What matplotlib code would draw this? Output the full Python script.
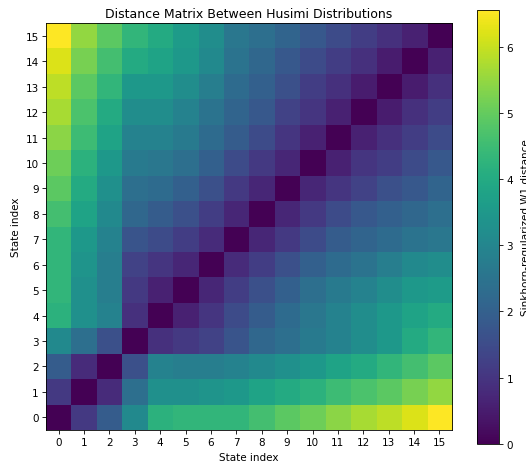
import matplotlib
matplotlib.use("Agg")
import matplotlib.pyplot as plt
import numpy as np

# lower triangle of the distance matrix, row i holds columns 0..i-1
lower = [
    [],
    [1.1],
    [1.9, 0.8],
    [3.1, 2.4, 1.6],
    [4.2, 3.3, 2.9, 0.9],
    [4.3, 3.3, 2.8, 1.1, 0.6],
    [4.3, 3.4, 2.8, 1.3, 1.0, 0.7],
    [4.3, 3.5, 2.9, 1.7, 1.5, 1.2, 0.8],
    [4.6, 3.8, 3.1, 2.2, 1.9, 1.6, 1.2, 0.7],
    [4.9, 4.0, 3.3, 2.4, 2.3, 2.0, 1.6, 1.1, 0.7],
    [5.1, 4.2, 3.5, 2.7, 2.6, 2.4, 2.0, 1.5, 1.1, 0.7],
    [5.4, 4.5, 3.8, 2.9, 2.9, 2.7, 2.3, 1.9, 1.5, 1.0, 0.6],
    [5.7, 4.7, 4.0, 3.2, 3.2, 2.9, 2.5, 2.1, 1.8, 1.3, 1.0, 0.6],
    [5.9, 4.9, 4.3, 3.5, 3.5, 3.2, 2.8, 2.3, 2.0, 1.6, 1.2, 0.9, 0.5],
    [6.2, 5.2, 4.6, 4.0, 3.8, 3.5, 3.1, 2.5, 2.2, 1.8, 1.5, 1.2, 0.9, 0.5],
    [6.55, 5.5, 4.9, 4.3, 4.0, 3.6, 3.2, 2.6, 2.4, 2.1, 1.8, 1.5, 1.2, 0.9, 0.6],
]
states = list(range(16))

n = len(states)
D = np.zeros((n, n))
for i, row in enumerate(lower):
    for j, v in enumerate(row):
        D[i, j] = v
        D[j, i] = v

fig = plt.figure(figsize=(526 / 75, 463 / 75), dpi=75)
ax = fig.add_axes([0.0875, 0.069, 0.772, 0.879])
cax = fig.add_axes([0.907, 0.039, 0.042, 0.937])

im = ax.imshow(D, origin="lower", cmap="viridis", vmin=0, aspect="auto")
ax.set_xticks(states)
ax.set_yticks(states)
ax.set_xlabel("State index")
ax.set_ylabel("State index")
ax.set_title("Distance Matrix Between Husimi Distributions")

cb = fig.colorbar(im, cax=cax)
cb.set_label("Sinkhorn-regularized W1 distance", labelpad=8)

fig.savefig("out.png", dpi=75)
